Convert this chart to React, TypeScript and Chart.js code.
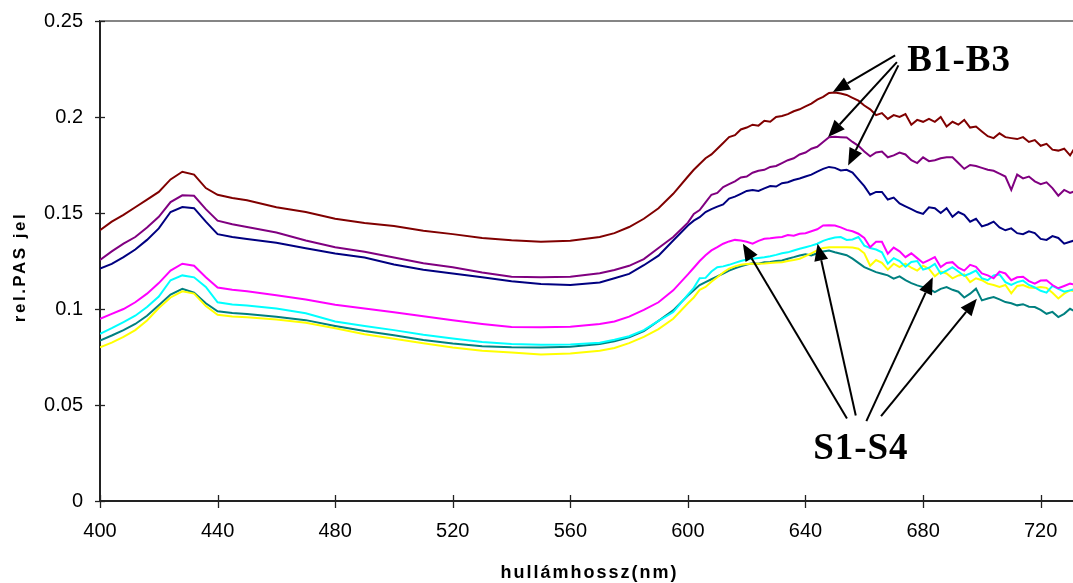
import React, { useEffect, useRef } from "react";
import { Chart, registerables } from "chart.js";

Chart.register(...registerables);

// wavelength (nm)
const wavelengths = [
  400, 404, 408, 412, 416, 420, 424, 428, 432, 436, 440, 445, 450, 460, 470, 480, 490, 500, 510, 520,
  530, 540, 550, 560, 570, 575, 580, 585, 590, 595, 600,
  602, 604, 606, 608, 610, 612, 614, 616, 618, 620,
  622, 624, 626, 628, 630, 632, 634, 636, 638, 640,
  642, 644, 646, 648, 650, 652, 654, 656, 658, 660,
  662, 664, 666, 668, 670, 672, 674, 676, 678, 680,
  682, 684, 686, 688, 690, 692, 694, 696, 698, 700,
  702, 704, 706, 708, 710, 712, 714, 716, 718, 720,
  722, 724, 726, 728, 730, 732,
];

const b1 = [
  0.141, 0.1455, 0.149, 0.153, 0.157, 0.161, 0.1675, 0.1715, 0.17, 0.163, 0.1595, 0.1578, 0.1566, 0.153, 0.1505, 0.147, 0.1448, 0.1432, 0.1408, 0.139,
  0.137, 0.1358, 0.135, 0.1356, 0.1375, 0.1395, 0.1427, 0.147, 0.1525, 0.16, 0.169,
  0.1725, 0.1755, 0.1785, 0.1805, 0.1835, 0.1865, 0.1895, 0.1905, 0.1935, 0.1945,
  0.196, 0.1955, 0.198, 0.1975, 0.2, 0.2005, 0.2015, 0.203, 0.204, 0.2055,
  0.207, 0.209, 0.2105, 0.2125, 0.2128, 0.2122, 0.2115, 0.21, 0.2085, 0.206,
  0.204, 0.201, 0.202, 0.199, 0.201, 0.2, 0.2015, 0.196, 0.1985, 0.1975,
  0.199, 0.1975, 0.2, 0.195, 0.1975, 0.196, 0.1985, 0.1945, 0.195, 0.1925,
  0.19, 0.189, 0.1915, 0.1895, 0.189, 0.1885, 0.1895, 0.187, 0.188, 0.185,
  0.186, 0.183, 0.1825, 0.1835, 0.18, 0.185,
];

const b2 = [
  0.1255, 0.13, 0.134, 0.1375, 0.1425, 0.148, 0.1557, 0.1592, 0.159, 0.152, 0.146, 0.1441, 0.1427, 0.1398, 0.1357, 0.1322, 0.1298, 0.1268, 0.1238, 0.1217,
  0.119, 0.1168, 0.1166, 0.1168, 0.1186, 0.1203, 0.1225, 0.126, 0.1318, 0.1375, 0.145,
  0.1495, 0.1515, 0.1555, 0.1595, 0.1605, 0.1635, 0.165, 0.1665, 0.1685, 0.169,
  0.171, 0.172, 0.1725, 0.174, 0.1745, 0.176, 0.1775, 0.1785, 0.1805, 0.1815,
  0.1835, 0.1845, 0.187, 0.1895, 0.1897, 0.1895, 0.1893, 0.187, 0.185, 0.182,
  0.1795, 0.1815, 0.182, 0.179, 0.18, 0.1815, 0.1805, 0.1775, 0.176, 0.179,
  0.177, 0.1775, 0.1785, 0.179, 0.179, 0.176, 0.173, 0.175, 0.1745, 0.1735,
  0.1725, 0.172, 0.1705, 0.169, 0.162, 0.17, 0.168, 0.169, 0.1665, 0.165,
  0.166, 0.163, 0.159, 0.162, 0.1605, 0.1615,
];

const b3 = [
  0.121, 0.1235, 0.127, 0.131, 0.136, 0.142, 0.1505, 0.1531, 0.1525, 0.1455, 0.139, 0.1375, 0.1365, 0.1345, 0.1316, 0.1289, 0.1268, 0.1232, 0.1205, 0.1185,
  0.1165, 0.1145, 0.113, 0.1125, 0.1138, 0.116, 0.1183, 0.1228, 0.1278, 0.1357, 0.1435,
  0.146, 0.1478, 0.1505, 0.152, 0.1533, 0.1545, 0.1575, 0.1585, 0.16, 0.1615,
  0.162, 0.1615, 0.1628, 0.164, 0.1638, 0.1655, 0.166, 0.1672, 0.168, 0.169,
  0.17, 0.1715, 0.173, 0.174, 0.1735, 0.1722, 0.1725, 0.171, 0.1675, 0.164,
  0.1595, 0.161, 0.161, 0.157, 0.158, 0.155, 0.1535, 0.152, 0.1505, 0.1495,
  0.153, 0.1525, 0.15, 0.1525, 0.148, 0.1505, 0.149, 0.1455, 0.147, 0.143,
  0.144, 0.1455, 0.1425, 0.141, 0.142, 0.1395, 0.139, 0.1405, 0.1395, 0.1365,
  0.136, 0.138, 0.137, 0.134, 0.135, 0.136,
];

const s1 = [
  0.0949, 0.0975, 0.1, 0.1035, 0.108, 0.1135, 0.12, 0.1236, 0.1225, 0.1165, 0.1112, 0.11, 0.1092, 0.1072, 0.105, 0.1022, 0.1002, 0.0983, 0.0962, 0.0941,
  0.0922, 0.0906, 0.0905, 0.0908, 0.0922, 0.0935, 0.096, 0.0995, 0.1035, 0.1097, 0.118,
  0.1215, 0.125, 0.128, 0.1305, 0.1322, 0.134, 0.1352, 0.136, 0.1357, 0.135,
  0.134, 0.1355, 0.1366, 0.1368, 0.1372, 0.1375, 0.1385, 0.1382, 0.1392, 0.1395,
  0.1405, 0.1415, 0.1435, 0.1436, 0.1435, 0.1425, 0.1412, 0.1405, 0.1392, 0.137,
  0.1322, 0.135, 0.135, 0.1288, 0.132, 0.13, 0.127, 0.129, 0.1265, 0.124,
  0.1255, 0.127, 0.1218, 0.124, 0.1244, 0.1215, 0.12, 0.123, 0.122, 0.1185,
  0.1175, 0.116, 0.1195, 0.1185, 0.115, 0.1165, 0.1168, 0.1145, 0.1132, 0.1148,
  0.115, 0.1125, 0.1108, 0.112, 0.1132, 0.1125,
];

const s2 = [
  0.0871, 0.09, 0.0932, 0.0965, 0.101, 0.1065, 0.115, 0.1175, 0.1165, 0.1115, 0.1035, 0.1024, 0.1018, 0.1002, 0.0978, 0.0935, 0.0912, 0.089, 0.0866, 0.0846,
  0.0828, 0.0818, 0.0814, 0.0815, 0.0824, 0.084, 0.0858, 0.089, 0.0938, 0.0984, 0.1075,
  0.111, 0.116, 0.1162, 0.1195, 0.1218, 0.1222, 0.123, 0.124, 0.125, 0.1258,
  0.1262, 0.1266, 0.127, 0.1275, 0.1282, 0.129, 0.1295, 0.1305, 0.1314, 0.1322,
  0.133, 0.134, 0.1355, 0.1365, 0.1372, 0.1375, 0.136, 0.1362, 0.1375, 0.133,
  0.1318, 0.131, 0.1295, 0.1236, 0.1265, 0.125, 0.122, 0.1245, 0.125, 0.1205,
  0.1215, 0.1235, 0.1184, 0.12, 0.1218, 0.1195, 0.1172, 0.1185, 0.12, 0.116,
  0.115, 0.1175, 0.118, 0.114, 0.1125, 0.114, 0.1148, 0.1125, 0.1112, 0.1095,
  0.1085, 0.112, 0.1105, 0.109, 0.1097, 0.1105,
];

const s3 = [
  0.0801, 0.0825, 0.0855, 0.089, 0.094, 0.1005, 0.106, 0.1092, 0.108, 0.1015, 0.097, 0.0961, 0.0957, 0.0945, 0.0928, 0.09, 0.0868, 0.0845, 0.0822, 0.08,
  0.0782, 0.0773, 0.0763, 0.0768, 0.0783, 0.0797, 0.0822, 0.0855, 0.0895, 0.0949, 0.103,
  0.106, 0.11, 0.1115, 0.1142, 0.1165, 0.119, 0.121, 0.1222, 0.123, 0.1234,
  0.1236, 0.1236, 0.1237, 0.124, 0.1242, 0.1244, 0.125, 0.1255, 0.1262, 0.1275,
  0.129, 0.1305, 0.1318, 0.1322, 0.1322, 0.1322, 0.1322, 0.132, 0.1314, 0.129,
  0.1225, 0.1255, 0.124, 0.1205, 0.1236, 0.1218, 0.1236, 0.1215, 0.12, 0.1225,
  0.121, 0.117, 0.1195, 0.1185, 0.116, 0.1175, 0.118, 0.114, 0.116, 0.115,
  0.1132, 0.1125, 0.1115, 0.1125, 0.1082, 0.112, 0.1125, 0.1112, 0.111, 0.1115,
  0.111, 0.1085, 0.1055, 0.108, 0.1097, 0.109,
];

const s4 = [
  0.0836, 0.0862, 0.089, 0.0922, 0.0965, 0.102, 0.1075, 0.1105, 0.1085, 0.103, 0.0988, 0.0979, 0.0974, 0.096, 0.0942, 0.0912, 0.0885, 0.0863, 0.0838, 0.082,
  0.0806, 0.0801, 0.08, 0.0804, 0.0818, 0.0832, 0.0852, 0.0885, 0.0938, 0.0993, 0.107,
  0.1098, 0.1125, 0.114, 0.1155, 0.117, 0.1185, 0.12, 0.1212, 0.1222, 0.1232,
  0.1238, 0.1236, 0.1244, 0.1245, 0.125, 0.1253, 0.1262, 0.127, 0.1279, 0.1285,
  0.1279, 0.129, 0.13, 0.1305, 0.1296, 0.1288, 0.128, 0.1262, 0.124, 0.1218,
  0.1205, 0.1192, 0.1184, 0.1175, 0.1158, 0.117, 0.115, 0.1135, 0.1123, 0.1114,
  0.1105, 0.1088, 0.1105, 0.1114, 0.11, 0.109, 0.106, 0.108, 0.1106, 0.1045,
  0.1055, 0.1062, 0.105, 0.1036, 0.103, 0.1019, 0.1025, 0.1012, 0.101, 0.0995,
  0.0975, 0.0985, 0.0958, 0.0975, 0.1001, 0.0985,
];

const seriesNames = ["B1", "B2", "B3", "S1", "S2", "S3", "S4"];
const seriesColors = ["#800000", "#800080", "#000080", "#FF00FF", "#00FFFF", "#FFFF00", "#008080"];

const xTicks = [400, 440, 480, 520, 560, 600, 640, 680, 720];
const yTicks = [0, 0.05, 0.1, 0.15, 0.2, 0.25];
const xTitle = "hullámhossz(nm)";
const yTitle = "rel.PAS jel";

// annotation text anchors (data coords: nm, value)
const noteLabels = [
  { text: "B1-B3", x: 674.6, y: 0.2238 },
  { text: "S1-S4", x: 642.6, y: 0.0221 },
];
// arrows: [fromX, fromY, tipX, tipY] in data coords
const noteArrows = [
  [670.5, 0.2321, 649.3, 0.213],
  [671.1, 0.2286, 647.7, 0.1896],
  [671.6, 0.2269, 654.5, 0.1748],
  [654.1, 0.043, 618.7, 0.134],
  [657.1, 0.0445, 644.1, 0.134],
  [660.7, 0.0416, 683.3, 0.1166],
  [665.7, 0.0442, 698.3, 0.1054],
];

const decorPlugin = {
  id: "decor",
  afterDraw(chart: any) {
    const { ctx, chartArea } = chart;
    const sx = chart.scales.x;
    const sy = chart.scales.y;
    ctx.save();

    // top frame line (at the axis maximum)
    const topY = sy.getPixelForValue(yTicks[yTicks.length - 1]);
    ctx.strokeStyle = "#858585";
    ctx.lineWidth = 2;
    ctx.beginPath();
    ctx.moveTo(chartArea.left, topY);
    ctx.lineTo(chart.width, topY);
    ctx.stroke();

    // crossing tick marks
    ctx.strokeStyle = "#222";
    ctx.lineWidth = 1.3;
    yTicks.forEach((v) => {
      const py = Math.round(sy.getPixelForValue(v)) + 0.5;
      ctx.beginPath();
      ctx.moveTo(chartArea.left - 5, py);
      ctx.lineTo(chartArea.left + 5, py);
      ctx.stroke();
    });
    xTicks.forEach((v) => {
      const px = Math.round(sx.getPixelForValue(v)) + 0.5;
      ctx.beginPath();
      ctx.moveTo(px, chartArea.bottom - 6);
      ctx.lineTo(px, chartArea.bottom + 7);
      ctx.stroke();
    });

    // axis titles
    ctx.fillStyle = "#000";
    ctx.textBaseline = "alphabetic";
    ctx.textAlign = "center";
    ctx.font = 'bold 18px "Liberation Sans", Arial, sans-serif';
    (ctx as any).letterSpacing = "2px";
    ctx.fillText(xTitle, (chartArea.left + chartArea.right) / 2 + 3, chart.height - 5);

    ctx.save();
    ctx.font = 'bold 17px "Liberation Sans", Arial, sans-serif';
    (ctx as any).letterSpacing = "2.5px";
    ctx.translate(24.5, (chartArea.top + chartArea.bottom) / 2 + 6);
    ctx.rotate(-Math.PI / 2);
    ctx.fillText(yTitle, 0, 0);
    ctx.restore();

    // arrows
    ctx.strokeStyle = "#000";
    ctx.fillStyle = "#000";
    ctx.lineWidth = 2;
    const head = 17;
    const half = 7;
    noteArrows.forEach(([x0, y0, x1, y1]) => {
      const ax = sx.getPixelForValue(x0);
      const ay = sy.getPixelForValue(y0);
      const bx = sx.getPixelForValue(x1);
      const by = sy.getPixelForValue(y1);
      const len = Math.hypot(bx - ax, by - ay);
      const ux = (bx - ax) / len;
      const uy = (by - ay) / len;
      const cx = bx - ux * head;
      const cy = by - uy * head;
      ctx.beginPath();
      ctx.moveTo(ax, ay);
      ctx.lineTo(cx, cy);
      ctx.stroke();
      ctx.beginPath();
      ctx.moveTo(bx, by);
      ctx.lineTo(cx - uy * half, cy + ux * half);
      ctx.lineTo(cx + uy * half, cy - ux * half);
      ctx.closePath();
      ctx.fill();
    });

    // labels
    ctx.textAlign = "left";
    ctx.font = 'bold 37px "Liberation Serif", "Times New Roman", serif';
    (ctx as any).letterSpacing = "1px";
    noteLabels.forEach((l) => {
      ctx.fillText(l.text, sx.getPixelForValue(l.x), sy.getPixelForValue(l.y));
    });
    ctx.restore();
  },
};

export default function App() {
  const ref = useRef<HTMLCanvasElement>(null);
  useEffect(() => {
    const series = [b1, b2, b3, s1, s2, s3, s4];
    const chart = new Chart(ref.current as HTMLCanvasElement, {
      type: "line",
      data: {
        datasets: series.map((vals, i) => ({
          label: seriesNames[i],
          data: wavelengths.map((x, j) => ({ x, y: vals[j] })),
          borderColor: seriesColors[i],
          backgroundColor: seriesColors[i],
          borderWidth: 2,
          pointRadius: 0,
          fill: false,
          tension: 0,
        })),
      },
      options: {
        animation: false,
        responsive: false,
        events: [],
        layout: { padding: { top: 21, right: 0, left: 0, bottom: 0 } },
        plugins: { legend: { display: false }, tooltip: { enabled: false } },
        scales: {
          x: {
            type: "linear",
            min: 400,
            max: 731,
            afterBuildTicks: (s: any) => {
              s.ticks = xTicks.map((v) => ({ value: v }));
            },
            afterFit: (s: any) => {
              s.height = 82;
              s.paddingLeft = 0;
              s.paddingRight = 0;
            },
            grid: { display: false, drawTicks: false },
            border: { display: true, color: "#222", width: 2 },
            ticks: {
              padding: 18,
              color: "#000",
              font: { family: '"Liberation Sans", Arial, sans-serif', size: 20 },
              maxRotation: 0,
              callback: (v: any) => String(v),
            },
          },
          y: {
            type: "linear",
            min: 0,
            max: 0.25,
            afterBuildTicks: (s: any) => {
              s.ticks = yTicks.map((v) => ({ value: v }));
            },
            afterFit: (s: any) => {
              s.width = 100;
              s.paddingTop = 0;
              s.paddingBottom = 0;
            },
            grid: { display: false, drawTicks: false },
            border: { display: true, color: "#222", width: 2 },
            ticks: {
              padding: 17,
              color: "#000",
              font: { family: '"Liberation Sans", Arial, sans-serif', size: 20 },
              callback: (v: any) => String(v),
            },
          },
        },
      },
      plugins: [decorPlugin],
    });
    return () => chart.destroy();
  }, []);

  return (
    <div style={{ position: "absolute", left: 0, top: 0, width: 1073, height: 583, background: "#fff" }}>
      <canvas ref={ref} width={1073} height={583} style={{ display: "block" }} />
    </div>
  );
}
